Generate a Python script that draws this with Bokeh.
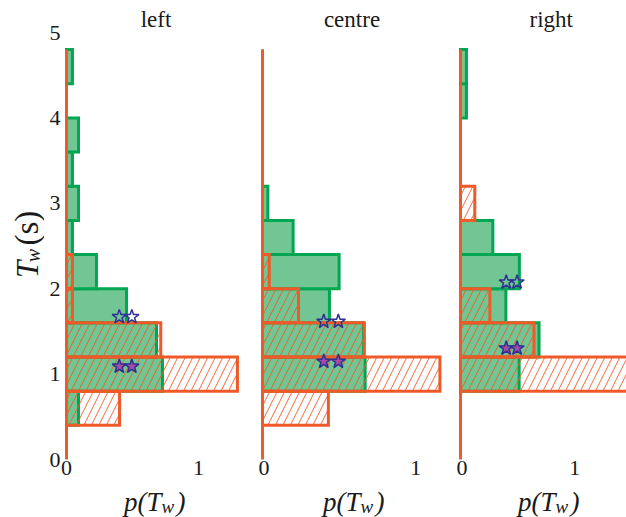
import math
from bokeh.plotting import figure
from bokeh.layouts import row, column
from bokeh.models import Range1d, Label, FixedTicker, Title
from bokeh.embed import file_html
from bokeh.resources import INLINE

# ---------------- data ----------------
bin_lo = [0.0, 0.4, 0.8, 1.2, 1.6, 2.0, 2.4, 2.8, 3.2, 3.6, 4.0, 4.4]
bin_hi = [0.4, 0.8, 1.2, 1.6, 2.0, 2.4, 2.8, 3.2, 3.6, 4.0, 4.4, 4.8]

left_green = [0.0, 0.091, 0.727, 0.682, 0.455, 0.227, 0.045, 0.091, 0.045, 0.091, 0.0, 0.045]
left_red = [0.0, 0.402, 1.295, 0.714, 0.045, 0.045, 0.0, 0.0, 0.0, 0.0, 0.0, 0.0]

centre_green = [0.0, 0.0, 0.670, 0.660, 0.437, 0.500, 0.200, 0.035, 0.0, 0.0, 0.0, 0.0]
centre_red = [0.0, 0.430, 1.158, 0.665, 0.235, 0.044, 0.0, 0.0, 0.0, 0.0, 0.0, 0.0]

right_green = [0.0, 0.0, 0.513, 0.687, 0.397, 0.515, 0.283, 0.0, 0.0, 0.0, 0.052, 0.052]
right_red = [0.0, 0.0, 1.480, 0.643, 0.257, 0.0, 0.0, 0.125, 0.0, 0.0, 0.0, 0.0]

star_x = [0.40, 0.495]
left_star_open_y = [1.67, 1.67]
left_star_fill_y = [1.09, 1.09]
centre_star_open_y = [1.616, 1.616]
centre_star_fill_y = [1.148, 1.148]
right_star_open_y = [2.076, 2.076]
right_star_fill_y = [1.303, 1.303]

panel_titles = ["left", "centre", "right"]
x_ticks = [0, 1]
y_ticks = [0, 1, 2, 3, 4, 5]

# ---------------- style ----------------
GREEN_EDGE = "#00a651"
GREEN_FILL = "#72c693"
RED = "#ef5a28"
STAR_EDGE = "#2e3192"
STAR_FILL = "#a64ca6"
TXT = "#1a1a1a"
SERIF = "Liberation Serif"

MAIN_H = 487
STRIP_H = 30
YLAB_W = 44


def make_panel(title, green, red, s_open, s_fill, xstart, xend, width,
               bl, br, show_y, title_align, title_offset):
    p = figure(width=width, height=MAIN_H, x_range=Range1d(xstart, xend),
               y_range=Range1d(0, 5), output_backend="svg",
               toolbar_location=None,
               y_axis_location="left" if show_y else None,
               min_border_left=bl, min_border_right=br,
               min_border_top=32, min_border_bottom=28)
    p.outline_line_color = None
    p.grid.visible = False
    p.background_fill_color = "white"
    p.border_fill_color = "white"

    p.title = Title(text=title, align=title_align, offset=title_offset,
                    standoff=2, text_font=SERIF, text_font_size="23px",
                    text_font_style="normal", text_color=TXT)

    for ax in ([p.xaxis[0]] + ([p.yaxis[0]] if show_y else [])):
        ax.axis_line_color = None
        ax.major_tick_line_color = None
        ax.minor_tick_line_color = None
        ax.major_tick_out = 0
        ax.major_tick_in = 0
        ax.major_label_text_font = SERIF
        ax.major_label_text_font_size = "22px"
        ax.major_label_text_color = TXT
    p.xaxis[0].ticker = FixedTicker(ticks=x_ticks)
    p.xaxis[0].major_label_standoff = 1
    if show_y:
        p.yaxis[0].ticker = FixedTicker(ticks=y_ticks)
        p.yaxis[0].major_label_standoff = 2

    p.quad(left=0, right=green, bottom=bin_lo, top=bin_hi,
           fill_color=GREEN_FILL, line_color=GREEN_EDGE, line_width=3,
           line_join="miter")
    p.quad(left=0, right=red, bottom=bin_lo, top=bin_hi,
           fill_color=None, line_color=RED, line_width=3, line_join="miter",
           hatch_pattern="/", hatch_color=RED, hatch_scale=15,
           hatch_weight=1, hatch_alpha=0.9)

    p.scatter(star_x, s_open, marker="star", size=15, line_color=STAR_EDGE,
              line_width=1.5, fill_color=None)
    p.scatter(star_x, s_fill, marker="star", size=15, line_color=STAR_EDGE,
              line_width=1.5, fill_color=STAR_FILL)
    return p


p1 = make_panel(panel_titles[0], left_green, left_red, left_star_open_y,
                left_star_fill_y, -0.0303, 1.3864, 214, 18, 9, True,
                "center", 0)
p2 = make_panel(panel_titles[1], centre_green, centre_red, centre_star_open_y,
                centre_star_fill_y, -0.0261, 1.1945, 198, 0, 11, False,
                "center", 0)
p3 = make_panel(panel_titles[2], right_green, right_red, right_star_open_y,
                right_star_fill_y, -0.035, 1.4523, 170, 0, 0, False,
                "left", 73)


def text_holder(w, h):
    f = figure(width=w, height=h, x_range=Range1d(0, w), y_range=Range1d(0, h),
               output_backend="svg", toolbar_location=None,
               x_axis_location=None, y_axis_location=None, min_border=0)
    f.outline_line_color = None
    f.grid.visible = False
    f.background_fill_color = "white"
    f.border_fill_color = "white"
    return f


# y axis label  T_w (s)  (rotated, box centred on the anchor)
ylab = text_holder(YLAB_W, MAIN_H)
rot = math.pi / 2
ylab.add_layout(Label(x=26.5, y=MAIN_H - 280, text="T", angle=rot,
                      text_align="left", text_baseline="middle",
                      text_font=SERIF, text_font_style="italic",
                      text_font_size="31px", text_color=TXT))
ylab.add_layout(Label(x=32, y=MAIN_H - 262, text="w", angle=rot,
                      text_align="left", text_baseline="middle",
                      text_font=SERIF, text_font_style="italic",
                      text_font_size="20px", text_color=TXT))
ylab.add_layout(Label(x=26.5, y=MAIN_H - 243, text="(s)", angle=rot,
                      text_align="left", text_baseline="middle",
                      text_font=SERIF, text_font_size="33px", text_color=TXT))

# x axis labels  p(T_w)  under each panel
xlab = text_holder(YLAB_W + 214 + 198 + 170, STRIP_H)
TOT_H = MAIN_H + STRIP_H
for t_end in [161, 360, 555]:
    xlab.add_layout(Label(x=t_end, y=TOT_H - 501.5, text="p(T",
                          text_align="right", text_baseline="alphabetic",
                          text_font=SERIF, text_font_style="italic",
                          text_font_size="27px", text_color=TXT))
    xlab.add_layout(Label(x=t_end, y=TOT_H - 505.5, text="w",
                          text_align="left", text_baseline="alphabetic",
                          text_font=SERIF, text_font_style="italic",
                          text_font_size="19px", text_color=TXT))
    xlab.add_layout(Label(x=t_end + 15, y=TOT_H - 501.5, text=")",
                          text_align="left", text_baseline="alphabetic",
                          text_font=SERIF, text_font_style="italic",
                          text_font_size="27px", text_color=TXT))

layout = column(row(ylab, p1, p2, p3), xlab)
open("out.html", "w").write(file_html(layout, INLINE))
